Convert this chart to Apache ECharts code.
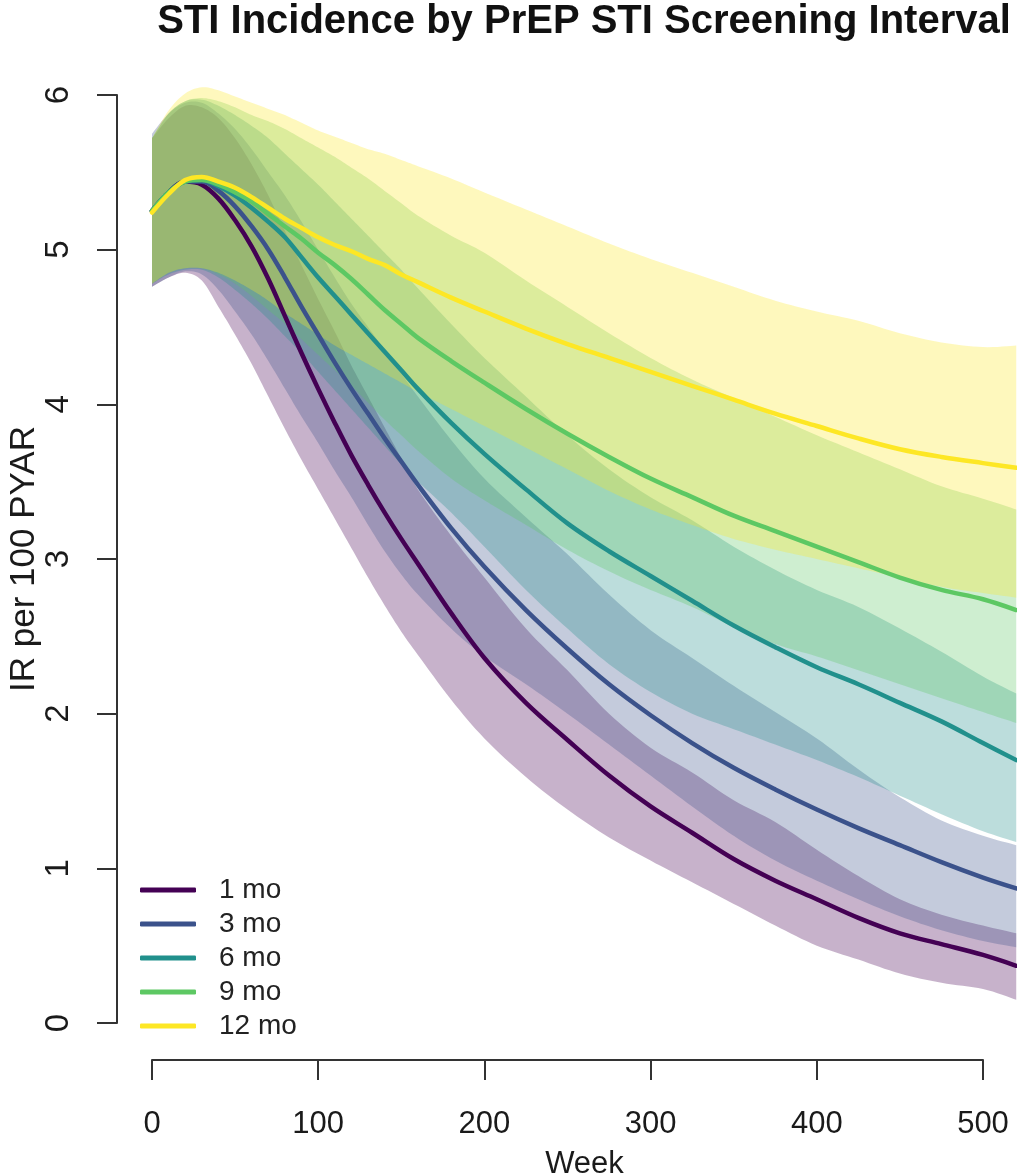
<!DOCTYPE html>
<html>
<head>
<meta charset="utf-8">
<script src="https://cdn.jsdelivr.net/npm/echarts@6/dist/echarts.min.js"></script>
<style>
html,body{margin:0;padding:0;background:#ffffff;}
#chart{width:1017px;height:1176px;}
</style>
</head>
<body>
<div id="chart"></div>
<script>
// ---------- data ----------
const weeks = [0,10,20,30,40,50,60,70,80,90,100,110,120,130,140,150,160,180,200,225,250,275,300,325,350,375,400,425,450,475,500,520];

const seriesNames = ['1 mo','3 mo','6 mo','9 mo','12 mo'];
const seriesColors = ['#440154','#3B528B','#21908C','#5DC863','#FDE725'];

const mean1  = [5.25,5.37,5.44,5.42,5.33,5.19,5.02,4.81,4.57,4.33,4.10,3.88,3.67,3.48,3.30,3.13,2.97,2.65,2.36,2.07,1.83,1.60,1.40,1.23,1.06,0.92,0.80,0.68,0.58,0.51,0.44,0.37];
const lower1 = [4.76,4.82,4.85,4.80,4.63,4.45,4.26,4.05,3.84,3.64,3.45,3.26,3.07,2.88,2.70,2.53,2.38,2.09,1.84,1.59,1.38,1.20,1.05,0.91,0.77,0.63,0.50,0.41,0.32,0.26,0.22,0.15];
const upper1 = [5.72,5.85,5.93,5.92,5.85,5.72,5.55,5.35,5.12,4.90,4.68,4.47,4.25,4.05,3.85,3.65,3.45,3.15,2.88,2.55,2.28,2.00,1.78,1.62,1.44,1.30,1.12,0.95,0.80,0.70,0.63,0.58];

const mean3  = [5.25,5.37,5.44,5.44,5.38,5.28,5.15,5.00,4.82,4.63,4.45,4.27,4.10,3.94,3.78,3.63,3.48,3.20,2.95,2.67,2.42,2.19,1.99,1.81,1.65,1.51,1.38,1.26,1.15,1.04,0.94,0.87];
const lower3 = [4.76,4.82,4.86,4.84,4.74,4.60,4.45,4.28,4.10,3.92,3.75,3.57,3.40,3.22,3.05,2.90,2.77,2.55,2.37,2.19,2.00,1.80,1.60,1.40,1.21,1.05,0.92,0.80,0.69,0.60,0.53,0.49];
const upper3 = [5.75,5.88,5.95,5.95,5.88,5.78,5.65,5.50,5.35,5.18,5.00,4.82,4.65,4.50,4.35,4.20,4.05,3.77,3.52,3.27,3.03,2.77,2.54,2.36,2.18,2.01,1.84,1.64,1.46,1.31,1.21,1.15];

const mean6  = [5.25,5.37,5.44,5.45,5.41,5.35,5.27,5.18,5.08,4.95,4.82,4.70,4.58,4.46,4.34,4.22,4.10,3.88,3.68,3.45,3.23,3.05,2.89,2.73,2.57,2.43,2.30,2.19,2.07,1.95,1.81,1.70];
const lower6 = [4.78,4.84,4.87,4.87,4.82,4.74,4.65,4.55,4.44,4.33,4.21,4.09,3.97,3.85,3.73,3.61,3.50,3.30,3.08,2.80,2.55,2.32,2.14,2.00,1.90,1.80,1.70,1.59,1.47,1.35,1.24,1.17];
const upper6 = [5.72,5.88,5.96,5.97,5.93,5.87,5.80,5.72,5.62,5.52,5.42,5.31,5.20,5.09,4.98,4.87,4.75,4.52,4.30,4.05,3.80,3.58,3.40,3.25,3.08,2.93,2.80,2.69,2.55,2.40,2.24,2.13];

const mean9  = [5.25,5.37,5.44,5.45,5.42,5.37,5.31,5.23,5.15,5.07,4.98,4.90,4.81,4.71,4.61,4.52,4.43,4.28,4.14,3.97,3.81,3.66,3.52,3.40,3.28,3.18,3.08,2.98,2.88,2.80,2.74,2.67];
const lower9 = [4.78,4.85,4.88,4.88,4.84,4.78,4.70,4.61,4.52,4.42,4.32,4.22,4.12,4.01,3.90,3.80,3.70,3.52,3.38,3.22,3.06,2.92,2.80,2.69,2.56,2.45,2.37,2.28,2.19,2.10,2.01,1.94];
const upper9 = [5.72,5.88,5.96,5.98,5.96,5.92,5.87,5.83,5.78,5.72,5.66,5.60,5.53,5.46,5.38,5.30,5.22,5.09,4.98,4.80,4.63,4.46,4.30,4.16,4.04,3.92,3.80,3.69,3.58,3.47,3.39,3.32];

const mean12  = [5.24,5.36,5.45,5.47,5.44,5.40,5.34,5.27,5.20,5.14,5.08,5.03,4.99,4.94,4.90,4.84,4.79,4.69,4.60,4.49,4.39,4.30,4.21,4.12,4.03,3.94,3.86,3.78,3.71,3.66,3.62,3.59];
const lower12 = [4.78,4.85,4.88,4.88,4.85,4.80,4.74,4.67,4.59,4.52,4.45,4.38,4.32,4.26,4.20,4.14,4.08,3.97,3.86,3.72,3.58,3.44,3.32,3.22,3.13,3.06,3.00,2.94,2.88,2.82,2.78,2.75];
const upper12 = [5.72,5.90,6.01,6.05,6.03,5.99,5.95,5.91,5.87,5.82,5.77,5.73,5.69,5.65,5.62,5.58,5.54,5.46,5.37,5.26,5.15,5.04,4.94,4.85,4.76,4.67,4.60,4.54,4.46,4.40,4.37,4.38];

const xTicks = [0,100,200,300,400,500];
const yTicks = [0,1,2,3,4,5,6];
const xDataMax = 520;   // last simulated week (data run past the last labelled tick)

const titleText = 'STI Incidence by PrEP STI Screening Interval';
const xName = 'Week';
const yName = 'IR per 100 PYAR';

// ---------- helpers ----------
const FONT = '"Liberation Sans", Arial, Helvetica, sans-serif';
const means  = [mean1, mean3, mean6, mean9, mean12];
const lowers = [lower1, lower3, lower6, lower9, lower12];
const uppers = [upper1, upper3, upper6, upper9, upper12];

// layout of the visible axes
const GRID_LEFT = 152, GRID_RIGHT = 34, GRID_TOP = 95, GRID_BOTTOM = 153, W = 1017;
const axisWidth = W - GRID_LEFT - GRID_RIGHT;                 // px for xTicks range
const dataWidth = axisWidth * (xDataMax - xTicks[0]) / (xTicks[xTicks.length - 1] - xTicks[0]);

function hexToRgba(hex, a) {
  const n = parseInt(hex.slice(1), 16);
  return 'rgba(' + ((n >> 16) & 255) + ',' + ((n >> 8) & 255) + ',' + (n & 255) + ',' + a + ')';
}

// Catmull-Rom smoothing of pixel points, sampled into a dense polyline
function smoothPts(pts) {
  const out = [];
  const steps = 8;
  for (let i = 0; i < pts.length - 1; i++) {
    const p0 = pts[Math.max(i - 1, 0)], p1 = pts[i], p2 = pts[i + 1], p3 = pts[Math.min(i + 2, pts.length - 1)];
    const c1 = [p1[0] + (p2[0] - p0[0]) / 6, p1[1] + (p2[1] - p0[1]) / 6];
    const c2 = [p2[0] - (p3[0] - p1[0]) / 6, p2[1] - (p3[1] - p1[1]) / 6];
    for (let s = 0; s < steps; s++) {
      const t = s / steps, u = 1 - t;
      out.push([
        u*u*u*p1[0] + 3*u*u*t*c1[0] + 3*u*t*t*c2[0] + t*t*t*p2[0],
        u*u*u*p1[1] + 3*u*u*t*c1[1] + 3*u*t*t*c2[1] + t*t*t*p2[1]
      ]);
    }
  }
  out.push(pts[pts.length - 1]);
  return out;
}

function bandSeries(k) {
  const lo = lowers[k], hi = uppers[k];
  const fill = hexToRgba(seriesColors[k], 0.3);
  return {
    type: 'custom',
    name: seriesNames[k] + ' band',
    xAxisIndex: 1,
    yAxisIndex: 1,
    silent: true,
    clip: false,
    z: 2,
    data: weeks.map((w, i) => [w, lo[i], hi[i]]),
    encode: { x: 0, y: [1, 2] },
    renderItem: function (params, api) {
      if (params.dataIndex !== 0) return null;
      const lowPts = smoothPts(weeks.map((w, i) => api.coord([w, lo[i]])));
      const upPts = smoothPts(weeks.map((w, i) => api.coord([w, hi[i]]))).reverse();
      return {
        type: 'polygon',
        shape: { points: lowPts.concat(upPts) },
        style: { fill: fill, stroke: null }
      };
    }
  };
}

function lineSeries(k) {
  return {
    type: 'line',
    name: seriesNames[k],
    xAxisIndex: 1,
    yAxisIndex: 1,
    data: weeks.map((w, i) => [w, means[k][i]]),
    symbol: 'none',
    smooth: 0.35,
    clip: false,
    z: 3,
    color: seriesColors[k],
    lineStyle: { color: seriesColors[k], width: 4.5, cap: 'round', join: 'round' },
    emphasis: { disabled: true }
  };
}

const series = [];
for (let k = 0; k < 5; k++) series.push(bandSeries(k));
for (let k = 0; k < 5; k++) series.push(lineSeries(k));

const axisLineStyle = { color: '#333333', width: 2 };

const chart = echarts.init(document.getElementById('chart'), null, { renderer: 'canvas' });
chart.setOption({
  animation: false,
  backgroundColor: '#ffffff',
  textStyle: { fontFamily: FONT },
  title: {
    text: titleText,
    left: 584,
    top: 2,
    padding: 0,
    textAlign: 'center',
    textStyle: { fontFamily: FONT, fontSize: 40, fontWeight: 'bold', color: '#111111' }
  },
  legend: {
    data: seriesNames.map(n => ({ name: n, icon: 'roundRect' })),
    orient: 'vertical',
    left: 140,
    top: 876,
    padding: 0,
    itemWidth: 56,
    itemHeight: 5,
    itemGap: 6,
    selectedMode: false,
    textStyle: { fontFamily: FONT, fontSize: 28, color: '#222222', padding: [0, 0, 0, 18] }
  },
  grid: [
    { left: GRID_LEFT, right: GRID_RIGHT, top: GRID_TOP, bottom: GRID_BOTTOM, containLabel: false, outerBoundsMode: 'none' },
    { left: GRID_LEFT, width: dataWidth, top: GRID_TOP, bottom: GRID_BOTTOM, containLabel: false, outerBoundsMode: 'none' }
  ],
  xAxis: [
    {
      type: 'value',
      gridIndex: 0,
      min: xTicks[0],
      max: xTicks[xTicks.length - 1],
      interval: 100,
      offset: 37,
      splitLine: { show: false },
      axisLine: { show: true, onZero: false, lineStyle: axisLineStyle },
      axisTick: { show: true, length: 20, lineStyle: axisLineStyle },
      axisLabel: { fontFamily: FONT, fontSize: 31, color: '#1a1a1a', margin: 49 },
      name: xName,
      nameLocation: 'middle',
      nameGap: 89,
      nameTextStyle: { fontFamily: FONT, fontSize: 31, color: '#1a1a1a', padding: [0, 0, 0, 34] }
    },
    {
      type: 'value',
      gridIndex: 1,
      min: xTicks[0],
      max: xDataMax,
      show: false
    }
  ],
  yAxis: [
    {
      type: 'value',
      gridIndex: 0,
      min: yTicks[0],
      max: yTicks[yTicks.length - 1],
      interval: 1,
      offset: 35,
      splitLine: { show: false },
      axisLine: { show: true, onZero: false, lineStyle: axisLineStyle },
      axisTick: { show: true, length: 20, lineStyle: axisLineStyle },
      axisLabel: { fontFamily: FONT, fontSize: 33, color: '#1a1a1a', rotate: 90, margin: 42 },
      name: yName,
      nameLocation: 'middle',
      nameGap: 75,
      nameMoveOverlap: false,
      nameTextStyle: { fontFamily: FONT, fontSize: 35, color: '#1a1a1a' }
    },
    {
      type: 'value',
      gridIndex: 1,
      min: yTicks[0],
      max: yTicks[yTicks.length - 1],
      show: false
    }
  ],
  series: series
});
</script>
</body>
</html>
